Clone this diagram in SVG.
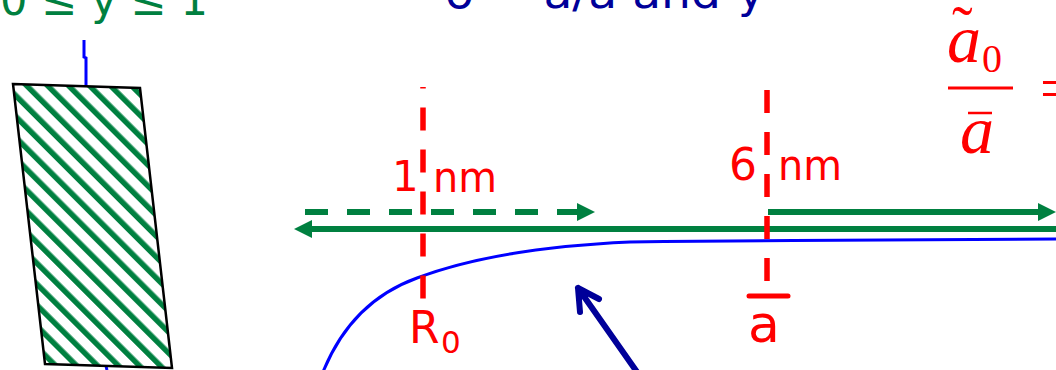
<svg xmlns="http://www.w3.org/2000/svg" width="1056" height="370" viewBox="0 0 1056 370">
<style>
.sans{font-family:"DejaVu Sans","Noto Sans",sans-serif}
.red{fill:#ff0000}
.grn{fill:#008040}
.navy{fill:#000099}
.serif{font-family:"Liberation Serif","DejaVu Serif",serif;fill:#ff0000}
.math{font-family:"Liberation Serif","DejaVu Serif",serif;font-style:italic;fill:#ff0000}
.rdash{stroke:#ff0000;stroke-width:5.5;fill:none;stroke-dasharray:23 19}
.gline{stroke:#008040;stroke-width:6;fill:none}
.blue{stroke:#0000ff;stroke-width:3;fill:none}
</style>
<defs>
<pattern id="hatch" patternUnits="userSpaceOnUse" width="14.8" height="14.8" patternTransform="rotate(-45)">
<rect width="14.8" height="14.8" fill="#ffffff"/>
<rect x="0" y="0" width="5.5" height="14.8" fill="#008040"/>
</pattern>
<marker id="gh" markerUnits="userSpaceOnUse" markerWidth="18" markerHeight="18" refX="2" refY="9" orient="auto" viewBox="0 0 18 18">
<path d="M0,0 L18,9 L0,18 z" fill="#008040"/>
</marker>
</defs>

<g id="top-labels">
<text class="sans grn" x="0" y="15" font-size="44" textLength="208" lengthAdjust="spacingAndGlyphs">0 ≤ y ≤ 1</text>
<text class="sans navy" x="445" y="8" font-size="44" textLength="276" lengthAdjust="spacingAndGlyphs">δ = a/a and</text>
<text class="sans navy" x="738" y="8" font-size="44">y</text>
</g>

<g id="slab">
<path class="blue" d="M84,40 L84,57 L86,58 L86,86"/>
<path class="blue" d="M106,366 L107,370"/>
<polygon points="13,84 140,88 172,368 45,364" fill="url(#hatch)" stroke="#000000" stroke-width="2.5"/>
</g>

<g id="fraction">
<text class="math" x="947" y="62" font-size="68">a</text>
<text class="serif" x="952" y="49" font-size="62">˜</text>
<text class="serif" x="982" y="72" font-size="40">0</text>
<line x1="948" y1="88" x2="1013" y2="88" stroke="#ff0000" stroke-width="3"/>
<text class="math" x="960" y="153" font-size="68">a</text>
<line x1="968" y1="113" x2="992" y2="113" stroke="#ff0000" stroke-width="2.5"/>
<text class="serif" x="1040" y="108" font-size="60">=</text>
</g>

<g id="connectors">
<path class="blue" d="M323,372 C340,330 370,295 417,278 C470,258 540,246 630,242 L664,241.5 L793,240.5 L1056,239"/>
<line class="gline" x1="1056" y1="229" x2="310" y2="229" marker-end="url(#gh)"/>
<line class="gline" x1="305" y1="212" x2="579" y2="212" stroke-dasharray="23 19" marker-end="url(#gh)"/>
<line class="gline" x1="768" y1="212" x2="1040" y2="212" marker-end="url(#gh)"/>
<line class="rdash" x1="423" y1="87" x2="423" y2="299" stroke-dashoffset="21.5"/>
<line class="rdash" x1="767" y1="90" x2="767" y2="283"/>
<path d="M637,372 L578,288 M580,312 L578,288 L599,299" stroke="#000099" stroke-width="6" fill="none" stroke-linecap="round" stroke-linejoin="round"/>
</g>

<g id="marks">
<text class="sans red" x="392" y="191" font-size="42">1</text>
<text class="sans red" x="433" y="192" font-size="42" textLength="64" lengthAdjust="spacingAndGlyphs">nm</text>
<text class="sans red" x="729" y="180" font-size="44">6</text>
<text class="sans red" x="778" y="180" font-size="42" textLength="64" lengthAdjust="spacingAndGlyphs">nm</text>
<text class="sans red" x="409" y="343" font-size="44">R</text>
<text class="sans red" x="441" y="353" font-size="31">0</text>
<line x1="749" y1="296" x2="788" y2="296" stroke="#ff0000" stroke-width="5" stroke-linecap="round"/>
<text class="sans red" x="748" y="342" font-size="52">a</text>
</g>
</svg>
